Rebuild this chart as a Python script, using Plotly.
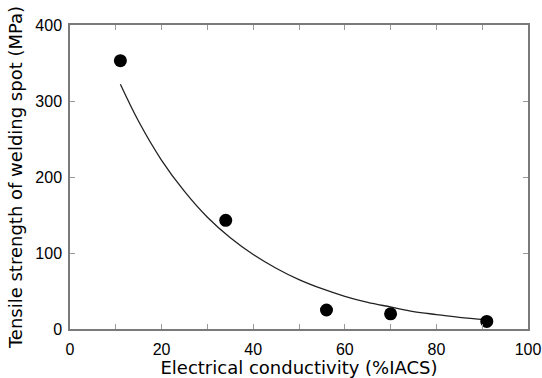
import plotly.graph_objects as go

# measured points
cond = [11, 34, 56, 70, 91]
strength = [353, 143, 25, 20, 10]

# trend curve
curve_x = [11, 15, 20, 25, 30, 35, 40, 45, 50, 55, 60, 65, 70, 75, 80, 85, 91]
curve_y = [322, 273, 222, 181, 147, 120, 98, 80, 65, 53, 43, 35, 29, 23, 19, 15.3, 12]

x_ticks = [0, 20, 40, 60, 80, 100]
y_ticks = [0, 100, 200, 300, 400]

fig = go.Figure()
fig.add_trace(go.Scatter(x=curve_x, y=curve_y, mode="lines",
                         line=dict(color="#222222", width=1.3, shape="spline"),
                         hoverinfo="skip", showlegend=False))
fig.add_trace(go.Scatter(x=cond, y=strength, mode="markers",
                         marker=dict(color="black", size=13),
                         showlegend=False))

title_font = dict(family="DejaVu Sans, sans-serif", size=18, color="black")
axis_common = dict(showgrid=False, zeroline=False, showline=True, mirror="ticks",
                   linecolor="#7a7a7a", linewidth=1.5, ticks="inside", ticklen=5,
                   tickcolor="#9a9a9a", tickwidth=1, automargin=False,
                   tickfont=dict(family="Liberation Sans, Arial, sans-serif", size=16, color="black"))

fig.update_xaxes(range=[0, 100], tickvals=x_ticks, ticktext=[str(v) for v in x_ticks],
                 minor=dict(dtick=10, ticks="inside", ticklen=5, tickcolor="#9a9a9a"),
                 ticklabelstandoff=5,
                 title=dict(text="Electrical conductivity (%IACS)", standoff=6, font=title_font),
                 **axis_common)
fig.update_yaxes(range=[0, 400], tickvals=y_ticks, ticktext=[str(v) for v in y_ticks],
                 ticklabelstandoff=3,
                 title=dict(text="Tensile strength of welding spot (MPa)", standoff=8, font=title_font),
                 **axis_common)

fig.update_layout(width=542, height=378, margin=dict(l=70, r=14, t=25, b=49),
                  plot_bgcolor="white", paper_bgcolor="white")

fig.write_html("out.html")
